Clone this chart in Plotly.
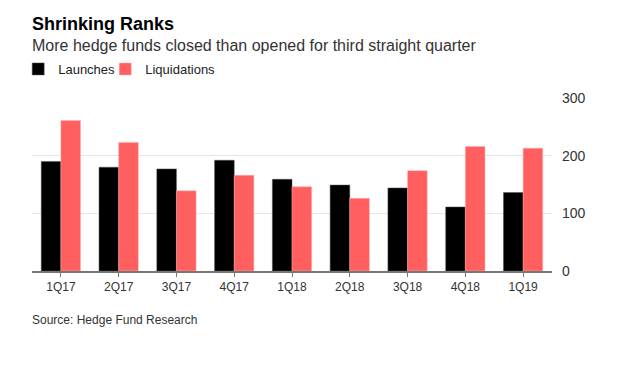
import plotly.graph_objects as go

quarters = ["1Q17", "2Q17", "3Q17", "4Q17", "1Q18", "2Q18", "3Q18", "4Q18", "1Q19"]
launches = [190, 180, 177, 192, 159, 149, 144, 111, 136]
liquidations = [261, 223, 139, 166, 146, 126, 174, 216, 213]
y_ticks = [0, 100, 200, 300]

FONT = "Liberation Sans, Arial, sans-serif"
# page has an 8px body margin
OFF = 8
W, H = 622, 361
PLOT_L, PLOT_R, PLOT_T, PLOT_B = 31.8, 551.6, 98, 271  # page pixel coords
L = PLOT_L - OFF
T = PLOT_T - OFF
R = W - (PLOT_R - OFF)
B = H - (PLOT_B - OFF)
PH = PLOT_B - PLOT_T
PW = PLOT_R - PLOT_L

def py(px):
    return (PLOT_B - px) / PH

def pxx(px):
    return (px - PLOT_L) / PW

fig = go.Figure()
fig.add_trace(go.Bar(x=quarters, y=launches, name="Launches", legend="legend",
                     marker=dict(color="#000000", line=dict(color="#555555", width=0.5))))
fig.add_trace(go.Bar(x=quarters, y=liquidations, name="Liquidations", legend="legend2",
                     marker=dict(color="#ff5f5f", line=dict(color="#ffb0b0", width=0.5))))

leg_common = dict(orientation="h", yanchor="middle", y=py(69), xanchor="left",
                  font=dict(size=13, color="#222222"), itemwidth=30,
                  bgcolor="rgba(0,0,0,0)")

fig.update_layout(
    width=W, height=H,
    margin=dict(l=L, r=R, t=T, b=B, autoexpand=False),
    paper_bgcolor="white", plot_bgcolor="white",
    barmode="group", bargap=0.32, bargroupgap=0,
    font=dict(family=FONT, color="#333333"),
    showlegend=True,
    legend=dict(x=pxx(18), **leg_common),
    legend2=dict(x=pxx(105), **leg_common),
    xaxis=dict(showgrid=False, showline=True, linecolor="#777777", linewidth=1.5,
               ticks="outside", ticklen=4, tickcolor="#777777", tickwidth=1,
               tickfont=dict(size=12, color="#333333"), fixedrange=True),
    yaxis=dict(side="right", range=[0, 300], tickvals=y_ticks,
               showgrid=True, gridcolor="#e6e6e6", gridwidth=1, zeroline=False,
               ticks="", ticklabelstandoff=9,
               tickfont=dict(size=14, color="#333333"), fixedrange=True),
    annotations=[
        dict(text="<b>Shrinking Ranks</b>", xref="paper", yref="paper", x=pxx(30), y=py(24),
             xanchor="left", yanchor="middle", showarrow=False,
             font=dict(size=18, color="#000000", family=FONT)),
        dict(text="More hedge funds closed than opened for third straight quarter",
             xref="paper", yref="paper", x=pxx(30), y=py(45), xanchor="left", yanchor="middle",
             showarrow=False, font=dict(size=16, color="#333333", family=FONT)),
        dict(text="Source: Hedge Fund Research", xref="paper", yref="paper", x=pxx(30), y=py(320),
             xanchor="left", yanchor="middle", showarrow=False,
             font=dict(size=12, color="#333333", family=FONT)),
    ],
)

fig.write_html("out.html")
